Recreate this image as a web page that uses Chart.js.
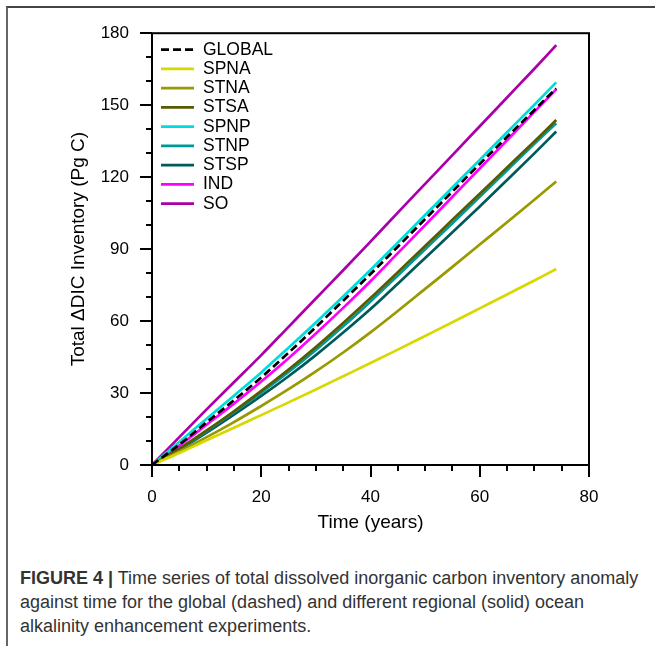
<!DOCTYPE html>
<html>
<head>
<meta charset="utf-8">
<script src="https://cdn.jsdelivr.net/npm/chart.js@4.4.1/dist/chart.umd.min.js"></script>
<style>
html, body { margin: 0; padding: 0; background: #fff; }
body { width: 655px; height: 646px; position: relative; overflow: hidden; }
#frame { position: absolute; left: 6px; top: 6px; width: 655px; height: 640px; border-left: 2px solid #666; border-top: 2px solid #444; }
#wrap { position: absolute; left: 0; top: 0; width: 655px; height: 540px; }
#caption { position: absolute; left: 20px; top: 566px; width: 634px; white-space: nowrap;
  font-family: "Liberation Sans", Arial, sans-serif; font-size: 18px; line-height: 24px; color: #333; }
</style>
</head>
<body>
<div id="frame"></div>
<div id="wrap"><canvas id="chart" width="655" height="540"></canvas></div>
<div id="caption"><b>FIGURE 4 |</b> Time series of total dissolved inorganic carbon inventory anomaly<br>against time for the global (dashed) and different regional (solid) ocean<br>alkalinity enhancement experiments.</div>
<script>
// time axis (years) and Delta DIC inventory (Pg C)
const years = [0, 5, 10, 15, 20, 25, 30, 35, 40, 45, 50, 55, 60, 65, 70, 74];
const globalRun = [0, 8.5, 17.8, 27, 36.5, 46.8, 57.5, 68.5, 79.6, 91, 102.5, 114, 125.5, 136.8, 148, 157];
const spna = [0, 5, 10.3, 15.5, 20.8, 26.1, 31.5, 37, 42.5, 48.1, 53.8, 59.5, 65.3, 71.1, 76.9, 81.7];
const stna = [0, 5.6, 11.6, 17.9, 24.6, 31.6, 39, 46.9, 55.3, 64.2, 73.4, 82.6, 91.9, 101.2, 110.6, 118.2];
const stsa = [0, 6.8, 14.4, 22.4, 30.9, 39.8, 49.2, 59.2, 69.6, 80.4, 91.3, 102.2, 113.1, 124, 134.9, 143.8];
const spnp = [0, 9.6, 19.3, 28.9, 38.6, 48.9, 59.4, 70.2, 81.3, 92.7, 104.2, 115.7, 127.2, 138.7, 150.2, 159.5];
const stnp = [0, 6.6, 14.1, 22, 30.2, 38.8, 48, 57.8, 68.2, 79, 89.9, 100.8, 111.8, 122.9, 133.9, 142.5];
const stsp = [0, 6.4, 13.5, 21, 28.8, 37, 45.8, 55.2, 65, 75.6, 86.3, 97, 107.8, 118.8, 129.9, 139];
const ind = [0, 8.1, 16.8, 25.6, 34.8, 44.5, 54.8, 65.5, 76.6, 88.3, 100, 111.8, 123.6, 135.4, 147.2, 156.6];
const so = [0, 11.6, 23.2, 34.5, 45.8, 57.6, 69.4, 81.2, 93.1, 105.2, 117.2, 129.2, 141.2, 153.2, 165.2, 175];

const xTicks = [0, 20, 40, 60, 80];
const yTicks = [0, 30, 60, 90, 120, 150, 180];

const seriesNames = ['GLOBAL', 'SPNA', 'STNA', 'STSA', 'SPNP', 'STNP', 'STSP', 'IND', 'SO'];
const seriesValues = [globalRun, spna, stna, stsa, spnp, stnp, stsp, ind, so];
const seriesColors = ['#000000', '#d8d800', '#999900', '#5a5a00', '#00dcdc', '#009999', '#005a5a', '#ff00ff', '#aa00aa'];

const font = '"Liberation Sans", Arial, sans-serif';

const datasets = seriesNames.map((name, i) => ({
    label: name,
    data: years.map((t, k) => ({ x: t, y: seriesValues[i][k] })),
    borderColor: seriesColors[i],
    borderWidth: 2.7,
    borderDash: name === 'GLOBAL' ? [8, 4] : [],
    pointRadius: 0,
    cubicInterpolationMode: 'monotone',
    fill: false
}));

// box around plot plus major/minor outward ticks
const frame = {
    id: 'frame',
    afterDatasetsDraw(chart) {
        const { ctx, chartArea: a, scales: { x, y } } = chart;
        ctx.save();
        ctx.strokeStyle = '#000';
        ctx.lineWidth = 2;
        ctx.strokeRect(a.left, a.top, a.right - a.left, a.bottom - a.top);
        ctx.beginPath();
        for (let v = 0; v <= 80; v += 5) {
            const px = Math.round(x.getPixelForValue(v));
            const len = v % 20 === 0 ? 12 : 6;
            ctx.moveTo(px, a.bottom);
            ctx.lineTo(px, a.bottom + len);
        }
        for (let v = 0; v <= 180; v += 10) {
            const py = Math.round(y.getPixelForValue(v));
            const len = v % 30 === 0 ? 12 : 6;
            ctx.moveTo(a.left, py);
            ctx.lineTo(a.left - len, py);
        }
        ctx.stroke();
        ctx.restore();
    }
};

// legend drawn inside the top-left of the plot
const insideLegend = {
    id: 'insideLegend',
    afterDraw(chart) {
        const { ctx, chartArea: a } = chart;
        ctx.save();
        ctx.font = '17.5px ' + font;
        ctx.textBaseline = 'middle';
        chart.data.datasets.forEach((ds, i) => {
            const yy = a.top + 16.5 + i * 19.25;
            ctx.strokeStyle = ds.borderColor;
            ctx.lineWidth = 2.7;
            ctx.setLineDash(ds.borderDash);
            ctx.beginPath();
            ctx.moveTo(a.left + 9, yy);
            ctx.lineTo(a.left + 42, yy);
            ctx.stroke();
            ctx.setLineDash([]);
            ctx.fillStyle = '#000';
            ctx.fillText(ds.label, a.left + 51, yy);
        });
        ctx.restore();
    }
};

new Chart(document.getElementById('chart').getContext('2d'), {
    type: 'line',
    data: { datasets },
    plugins: [frame, insideLegend],
    options: {
        responsive: false,
        animation: false,
        layout: { padding: { left: 57, top: 30, right: 66, bottom: 0 } },
        plugins: { legend: { display: false }, tooltip: { enabled: false } },
        scales: {
            x: {
                type: 'linear', min: 0, max: 80,
                afterBuildTicks: s => { s.ticks = xTicks.map(v => ({ value: v })); },
                afterFit: s => { s.height = 75; },
                grid: { display: false, drawTicks: false },
                border: { display: false },
                ticks: { color: '#000', font: { family: font, size: 17 }, padding: 22, maxRotation: 0 },
                title: { display: true, text: 'Time (years)', color: '#000', font: { family: font, size: 19 }, padding: { top: 0, bottom: 6 } }
            },
            y: {
                type: 'linear', min: 0, max: 180,
                afterBuildTicks: s => { s.ticks = yTicks.map(v => ({ value: v })); },
                afterFit: s => { s.width = 95; },
                grid: { display: false, drawTicks: false },
                border: { display: false },
                ticks: { color: '#000', font: { family: font, size: 17 }, padding: 23 },
                title: { display: true, text: 'Total \u0394DIC Inventory (Pg C)', color: '#000', font: { family: font, size: 19 }, padding: { top: 10, bottom: 0 } }
            }
        }
    }
});
</script>
</body>
</html>
